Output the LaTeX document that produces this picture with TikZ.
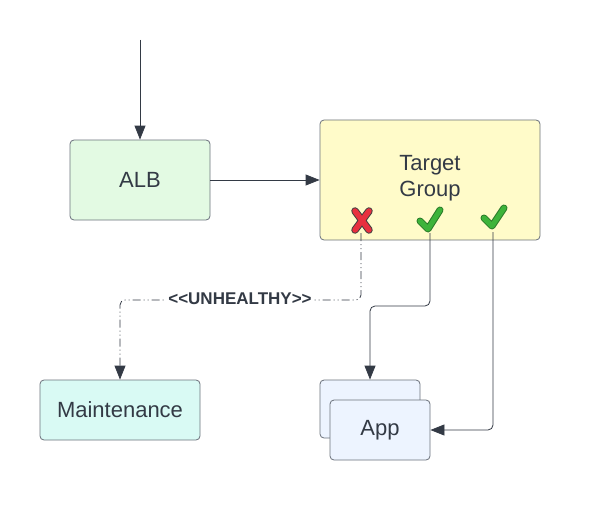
\documentclass[tikz,border=0pt]{standalone}
\usepackage{fontspec}
\setmainfont{Liberation Sans}
\usetikzlibrary{arrows.meta,calc}
\definecolor{ink}{HTML}{333A45}
\definecolor{edge}{HTML}{6B727C}
\definecolor{albfill}{HTML}{E3FAE3}
\definecolor{tgfill}{HTML}{FFFBC9}
\definecolor{mfill}{HTML}{D9FAF4}
\definecolor{appfill}{HTML}{EDF4FF}
\definecolor{okgreen}{HTML}{3DB33A}
\definecolor{okdark}{HTML}{2A7A28}
\definecolor{badred}{HTML}{E8303F}
\tikzset{
  boxtext/.style={text=ink, font=\fontsize{22}{26}\selectfont, align=center},
  box/.style={boxtext, draw=edge, line width=0.8pt, rounded corners=4pt, inner sep=0pt},
  conn/.style={draw=ink, line width=0.8pt, -{Triangle[length=14pt,width=11pt]}, rounded corners=5pt},
  dashconn/.style={conn, dash pattern=on 8pt off 3pt on 1pt off 3pt on 1pt off 3pt},
  tick/.style={line cap=round, line join=round},
}
\begin{document}
\begin{tikzpicture}[x=1pt,y=-1pt]
\useasboundingbox (0,0) rectangle (591,524);
\fill[white] (0,0) rectangle (591,524);
% nodes
\node[box, fill=albfill, minimum width=140pt, minimum height=80pt] (alb) at (140,180) {ALB};
\node[box, fill=tgfill, minimum width=220pt, minimum height=120pt] (tg) at (430,180) {};
\node[boxtext] (tgl) at (430,178.5) {Target\\Group};
\node[box, fill=mfill, minimum width=160pt, minimum height=60pt] (maint) at (120,410) {Maintenance};
\node[box, fill=appfill, minimum width=100pt, minimum height=58pt] (appback) at (370,409) {};
\node[box, fill=appfill, minimum width=100pt, minimum height=60pt] (app) at (380,430) {App};
% entry
\coordinate (entry) at (140,40);
% markers
\coordinate (xm) at (362,220.5);
\draw[tick, draw=black!75, line width=7.5pt] ($(xm)+(-7,-9.5)$) -- ($(xm)+(7,9.5)$) ($(xm)+(7,-9.5)$) -- ($(xm)+(-7,9.5)$);
\draw[tick, draw=badred, line width=5.5pt] ($(xm)+(-7,-9.5)$) -- ($(xm)+(7,9.5)$) ($(xm)+(7,-9.5)$) -- ($(xm)+(-7,9.5)$);
\draw[tick, draw=okdark, line width=7pt] (420,221) -- (428,229) -- (440,210);
\draw[tick, draw=okgreen, line width=5pt] (420,221) -- (428,229) -- (440,210);
\draw[tick, draw=okdark, line width=7pt] (484,218) -- (492,226) -- (504,208);
\draw[tick, draw=okgreen, line width=5pt] (484,218) -- (492,226) -- (504,208);
\coordinate (xb) at (361,233);
\coordinate (c1b) at (430,233);
\coordinate (c2b) at (493,232);
% connectors
\draw[conn] (entry) -- (alb.north);
\draw[conn] (alb.east) -- (tg.west);
\draw[dashconn] (xb) |- (240,300) -| (maint.north);
\node[fill=white, text=ink, font=\bfseries\fontsize{17}{20}\selectfont, inner sep=2pt] (lbl) at (240,299) {<{}<UNHEALTHY>{}>};
\draw[conn] (c1b) -- (430,306) -- (370,306) -- (appback.north);
\draw[conn] (c2b) |- (app.east);
\end{tikzpicture}
\end{document}
